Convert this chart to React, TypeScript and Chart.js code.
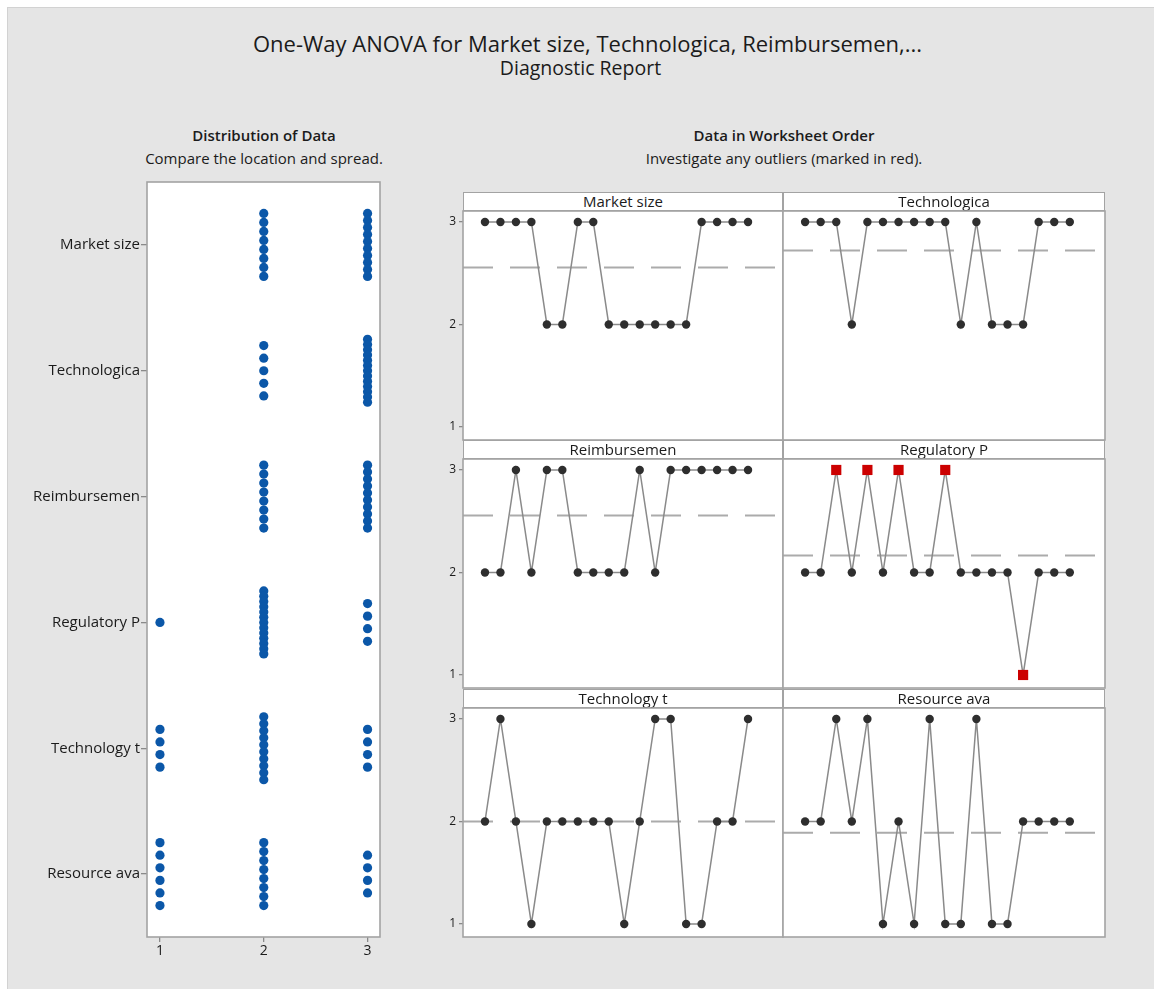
import React, { useEffect, useRef } from "react";
import { Chart, registerables } from "chart.js";

Chart.register(...registerables);

// ---------- data ----------
const variables = ["Market size", "Technologica", "Reimbursemen", "Regulatory P", "Technology t", "Resource ava"];
const marketSize = [3, 3, 3, 3, 2, 2, 3, 3, 2, 2, 2, 2, 2, 2, 3, 3, 3, 3];
const technologica = [3, 3, 3, 2, 3, 3, 3, 3, 3, 3, 2, 3, 2, 2, 2, 3, 3, 3];
const reimbursemen = [2, 2, 3, 2, 3, 3, 2, 2, 2, 2, 3, 2, 3, 3, 3, 3, 3, 3];
const regulatoryP = [2, 2, 3, 2, 3, 2, 3, 2, 2, 3, 2, 2, 2, 2, 1, 2, 2, 2];
const technologyT = [2, 3, 2, 1, 2, 2, 2, 2, 2, 1, 2, 3, 3, 1, 1, 2, 2, 3];
const resourceAva = [2, 2, 3, 2, 3, 1, 2, 1, 3, 1, 1, 3, 1, 1, 2, 2, 2, 2];
// worksheet rows (0-based) flagged as outliers in Regulatory P
const regulatoryOutliers = [2, 4, 6, 9, 14];
const valueTicks = [1, 2, 3];

const titleText = "One-Way ANOVA for Market size, Technologica, Reimbursemen,...";
const subtitleText = "Diagnostic Report";

// ---------- styling ----------
const FONT = '"Open Sans", "Noto Sans", sans-serif';
const TEXT = "#1b1b1b";
const FRAME = "#a3a3a3";

const seriesList = [marketSize, technologica, reimbursemen, regulatoryP, technologyT, resourceAva];
const outlierList = [[], [], [], regulatoryOutliers, [], []];

const framePlugin = {
  id: "frame",
  beforeDraw(chart: any) {
    const { ctx, chartArea: a } = chart;
    ctx.save();
    ctx.fillStyle = "#ffffff";
    ctx.fillRect(a.left, a.top, a.right - a.left, a.bottom - a.top);
    ctx.restore();
  },
  afterDraw(chart: any) {
    const { ctx, chartArea: a } = chart;
    ctx.save();
    ctx.strokeStyle = FRAME;
    ctx.lineWidth = 1.6;
    ctx.strokeRect(a.left, a.top, a.right - a.left, a.bottom - a.top);
    ctx.restore();
  },
};

const meanPlugin = {
  id: "meanLine",
  beforeDatasetsDraw(chart: any, _args: any, opts: any) {
    if (!opts || opts.value == null) return;
    const { ctx, chartArea: a } = chart;
    const y = chart.scales.y.getPixelForValue(opts.value);
    ctx.save();
    ctx.beginPath();
    ctx.rect(a.left, a.top, a.right - a.left, a.bottom - a.top);
    ctx.clip();
    ctx.strokeStyle = "#ababab";
    ctx.lineWidth = 2;
    ctx.setLineDash([30, 17]);
    ctx.beginPath();
    ctx.moveTo(a.left, y);
    ctx.lineTo(a.right, y);
    ctx.stroke();
    ctx.restore();
  },
};

// geometry of the right-hand panels
const COL_LEFT = [463, 783];
const COL_RIGHT = [783, 1105];
const STRIP_TOP = [192, 440, 689];
const STRIP_H = 19;
const PLOT_H = 229;

function dotPlotPoints() {
  const pts: { x: number; y: number }[] = [];
  seriesList.forEach((vals, i) => {
    valueTicks.forEach((v) => {
      const n = vals.filter((x) => x === v).length;
      const step = n > 1 ? Math.min(0.1, 0.5 / (n - 1)) : 0;
      for (let k = 0; k < n; k++) pts.push({ x: v, y: i + (k - (n - 1) / 2) * step });
    });
  });
  return pts;
}

function tickGrid(len: number) {
  return { display: true, drawOnChartArea: false, drawTicks: true, tickLength: len, color: "#8a8a8a", lineWidth: 1.3 };
}

export default function App() {
  const leftRef = useRef<HTMLCanvasElement | null>(null);
  const panelRefs = useRef<(HTMLCanvasElement | null)[]>([]);

  useEffect(() => {
    const charts: Chart[] = [];

    if (leftRef.current) {
      charts.push(
        new Chart(leftRef.current, {
          type: "scatter",
          data: {
            datasets: [
              {
                data: dotPlotPoints(),
                pointRadius: 4.6,
                pointBackgroundColor: "#0b57a8",
                pointBorderColor: "#0b57a8",
                pointBorderWidth: 0,
              },
            ],
          },
          plugins: [framePlugin],
          options: {
            animation: false,
            responsive: false,
            events: [],
            layout: { padding: { top: 10, right: 10, bottom: 10, left: 0 } },
            plugins: { legend: { display: false }, tooltip: { enabled: false } },
            scales: {
              x: {
                type: "linear",
                min: 0.875,
                max: 3.12,
                afterBuildTicks: (s: any) => {
                  s.ticks = valueTicks.map((v) => ({ value: v }));
                },
                afterFit: (s: any) => {
                  s.height = 25;
                  s.paddingLeft = 0;
                  s.paddingRight = 0;
                },
                grid: tickGrid(5),
                border: { display: false },
                ticks: { font: { family: FONT, size: 14 }, color: TEXT, padding: 1, maxRotation: 0, autoSkip: false, callback: (v: any) => String(v) },
              },
              y: {
                type: "linear",
                reverse: true,
                min: -0.5,
                max: 5.5,
                afterBuildTicks: (s: any) => {
                  s.ticks = variables.map((_, i) => ({ value: i }));
                },
                afterFit: (s: any) => {
                  s.width = 117;
                  s.paddingTop = 0;
                  s.paddingBottom = 0;
                },
                grid: tickGrid(6),
                border: { display: false },
                ticks: { font: { family: FONT, size: 15 }, color: TEXT, padding: 1, autoSkip: false, callback: (v: any) => variables[v] },
              },
            },
          } as any,
        })
      );
    }

    seriesList.forEach((vals, p) => {
      const canvas = panelRefs.current[p];
      if (!canvas) return;
      const col = p % 2;
      const outl = outlierList[p];
      const mean = vals.reduce((a, b) => a + b, 0) / vals.length;
      charts.push(
        new Chart(canvas, {
          type: "line",
          data: {
            datasets: [
              {
                data: vals.map((v, i) => ({ x: i + 1, y: v })),
                borderColor: "#8a8a8a",
                borderWidth: 1.5,
                pointStyle: vals.map((_, i) => (outl.includes(i) ? "rect" : "circle")),
                pointRadius: vals.map((_, i) => (outl.includes(i) ? 7.2 : 4.2)),
                pointBackgroundColor: vals.map((_, i) => (outl.includes(i) ? "#cc0000" : "#2e2e2e")),
                pointBorderColor: vals.map((_, i) => (outl.includes(i) ? "#cc0000" : "#2e2e2e")),
                pointBorderWidth: 0,
                tension: 0,
              },
            ],
          },
          plugins: [framePlugin, meanPlugin],
          options: {
            animation: false,
            responsive: false,
            events: [],
            layout: { padding: { top: 5, right: 5, bottom: 5, left: col === 0 ? 0 : 5 } },
            plugins: { legend: { display: false }, tooltip: { enabled: false }, meanLine: { value: mean } },
            scales: {
              x: { type: "linear", min: -0.42, max: 20.26, display: false },
              y: {
                type: "linear",
                min: 0.873,
                max: 3.107,
                display: col === 0,
                afterBuildTicks: (s: any) => {
                  s.ticks = valueTicks.map((v) => ({ value: v }));
                },
                afterFit: (s: any) => {
                  s.width = col === 0 ? 35 : 0;
                  s.paddingTop = 0;
                  s.paddingBottom = 0;
                },
                grid: tickGrid(4),
                border: { display: false },
                ticks: { font: { family: FONT, size: 12 }, color: TEXT, padding: 3, autoSkip: false, callback: (v: any) => String(v) },
              },
            },
          } as any,
        })
      );
    });

    return () => charts.forEach((c) => c.destroy());
  }, []);

  const textBase: React.CSSProperties = { position: "absolute", textAlign: "center", color: TEXT, fontFamily: FONT, whiteSpace: "nowrap" };

  return (
    <div style={{ position: "fixed", left: 0, top: 0, width: 1154, height: 989, background: "#ffffff", overflow: "hidden" }}>
      <div style={{ position: "absolute", left: 7, top: 7, right: 0, bottom: 0, background: "#e5e5e5", borderLeft: "1px solid #d2d2d2", borderTop: "1px solid #d2d2d2" }} />

      <div style={{ ...textBase, left: 14, width: 1147, top: 28, fontSize: 22, lineHeight: "30px" }}>{titleText}</div>
      <div style={{ ...textBase, left: 7, width: 1147, top: 55, fontSize: 19.5, lineHeight: "26px" }}>{subtitleText}</div>

      <div style={{ ...textBase, left: 64, width: 400, top: 124, fontSize: 15, fontWeight: 600, lineHeight: "22px" }}>Distribution of Data</div>
      <div style={{ ...textBase, left: 64, width: 400, top: 147, fontSize: 15, lineHeight: "22px" }}>Compare the location and spread.</div>
      <div style={{ ...textBase, left: 584, width: 400, top: 124, fontSize: 15, fontWeight: 600, lineHeight: "22px" }}>Data in Worksheet Order</div>
      <div style={{ ...textBase, left: 584, width: 400, top: 147, fontSize: 15, lineHeight: "22px" }}>Investigate any outliers (marked in red).</div>

      <canvas ref={leftRef} width={360} height={800} style={{ position: "absolute", left: 30, top: 172 }} />

      {seriesList.map((_, p) => {
        const col = p % 2;
        const row = Math.floor(p / 2);
        const plotTop = STRIP_TOP[row] + STRIP_H;
        const left = col === 0 ? COL_LEFT[0] - 35 : COL_LEFT[1] - 5;
        const width = COL_RIGHT[col] + 5 - left;
        return (
          <React.Fragment key={p}>
            <div
              style={{
                ...textBase,
                left: COL_LEFT[col],
                top: STRIP_TOP[row],
                width: COL_RIGHT[col] - COL_LEFT[col],
                height: STRIP_H,
                boxSizing: "border-box",
                border: `1.5px solid ${FRAME}`,
                background: "#ffffff",
                fontSize: 15,
                lineHeight: "16px",
              }}
            >
              {variables[p]}
            </div>
            <canvas
              ref={(el) => {
                panelRefs.current[p] = el;
              }}
              width={width}
              height={PLOT_H + 10}
              style={{ position: "absolute", left, top: plotTop - 5 }}
            />
          </React.Fragment>
        );
      })}
    </div>
  );
}
